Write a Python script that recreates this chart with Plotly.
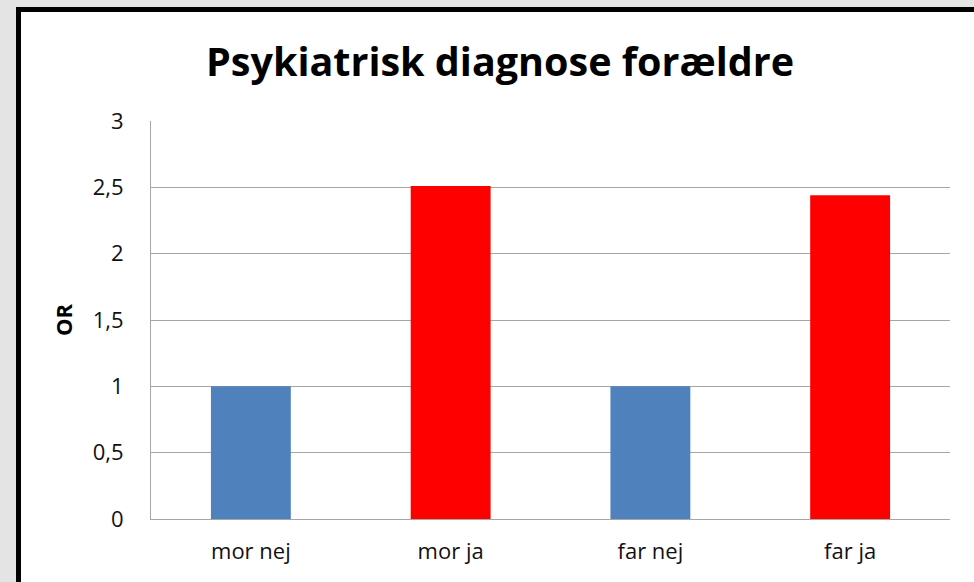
import plotly.graph_objects as go

categories = ["mor nej", "mor ja", "far nej", "far ja"]
values = [1.0, 2.51, 1.0, 2.44]
bar_colors = ["#4F81BD", "#FF0000", "#4F81BD", "#FF0000"]
y_ticks = [0, 0.5, 1, 1.5, 2, 2.5, 3]
y_tick_labels = ["0", "0,5", "1", "1,5", "2", "2,5", "3"]

W, H = 974, 582
L, R, T, B = 151, 24, 121, 63
pw, ph = W - L - R, H - T - B

def px_x(x):
    return (x - L) / pw

def px_y(y):
    return (H - B - y) / ph

fig = go.Figure(go.Bar(x=categories, y=values, marker_color=bar_colors,
                       marker_line_width=0, width=0.4))

fig.add_shape(type="rect", xref="paper", yref="paper",
              x0=px_x(18.5), x1=px_x(1100), y0=px_y(9.5), y1=px_y(700),
              line=dict(color="black", width=5), fillcolor="white", layer="below")

fig.update_layout(
    width=W, height=H,
    margin=dict(l=L, r=R, t=T, b=B, pad=0),
    paper_bgcolor="#e4e4e4",
    plot_bgcolor="rgba(0,0,0,0)",
    font=dict(family="Open Sans, sans-serif", color="#000"),
    title=dict(text="<b>Psykiatrisk diagnose forældre</b>", x=500 / W, xanchor="center",
               y=1 - 62 / H, yanchor="middle", font=dict(size=39.5, color="#000")),
    showlegend=False,
    bargap=0.6,
)
fig.update_yaxes(range=[0, 3], tickvals=y_ticks, ticktext=y_tick_labels,
                 showgrid=True, gridcolor="#a6a6a6", gridwidth=1,
                 showline=True, linecolor="#a6a6a6", linewidth=1,
                 ticks="", ticklabelstandoff=22, tickfont=dict(size=22, color="#111"),
                 zeroline=False,
                 title=dict(text="<b>OR</b>", font=dict(size=22), standoff=14))
fig.update_xaxes(showline=True, linecolor="#a6a6a6", linewidth=1, ticks="",
                 tickfont=dict(size=22, color="#111"), ticklabelstandoff=13, showgrid=False)

fig.write_html("out.html", config={"displayModeBar": False},
               post_script="document.body.style.margin='0';document.body.style.padding='0';")
